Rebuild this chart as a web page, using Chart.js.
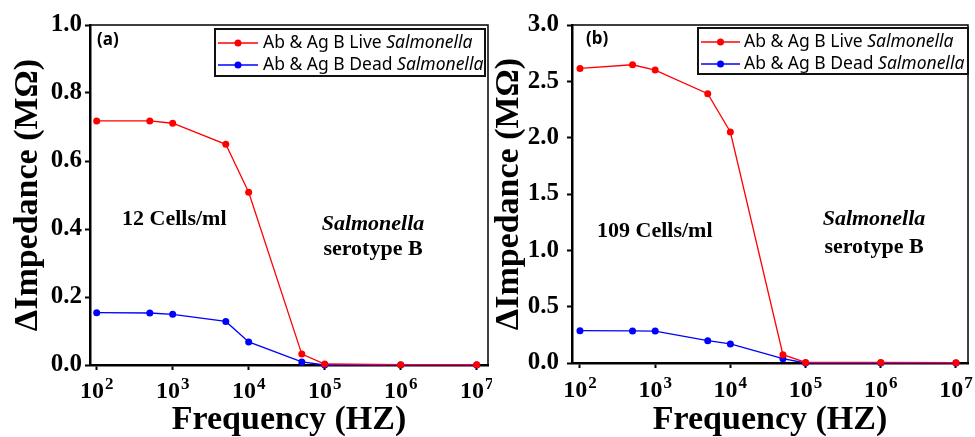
<!DOCTYPE html>
<html>
<head>
<meta charset="utf-8">
<script src="https://cdn.jsdelivr.net/npm/chart.js@4.4.1/dist/chart.umd.min.js"></script>
<style>
html, body { margin: 0; padding: 0; background: #fff; }
#wrap { position: relative; width: 975px; height: 437px; }
.panel { position: absolute; top: 0; height: 437px; }
canvas { display: block; }
</style>
</head>
<body>
<div id="wrap">
  <div class="panel" style="left:0;width:492px"><canvas id="chartA" width="492" height="437"></canvas></div>
  <div class="panel" style="left:492px;width:483px"><canvas id="chartB" width="483" height="437"></canvas></div>
</div>
<script>
// Frecuencias medidas (Hz)
const frequencies = [1e2, 5e2, 1e3, 5e3, 1e4, 5e4, 1e5, 1e6, 1e7];
const decadeTicks = [1e2, 1e3, 1e4, 1e5, 1e6, 1e7];

// ΔImpedancia (MΩ) - 12 Cells/ml
const liveA = [0.718, 0.718, 0.711, 0.649, 0.508, 0.032, 0.003, 0.001, 0.001];
const deadA = [0.154, 0.153, 0.149, 0.128, 0.068, 0.009, 0.000, 0.000, 0.000];
const yTicksA = [0, 0.2, 0.4, 0.6, 0.8, 1.0];

// ΔImpedancia (MΩ) - 109 Cells/ml
const liveB = [2.615, 2.647, 2.600, 2.390, 2.050, 0.074, 0.005, 0.005, 0.003];
const deadB = [0.287, 0.285, 0.283, 0.198, 0.169, 0.038, 0.000, 0.000, 0.000];
const yTicksB = [0, 0.5, 1.0, 1.5, 2.0, 2.5, 3.0];

const seriesLabels = ['Ab & Ag B Live Salmonella', 'Ab & Ag B Dead Salmonella'];
const italicWord = 'Salmonella';

const SERIF = '"Liberation Serif", "Times New Roman", serif';
const SANS = '"Noto Sans", "Liberation Sans", Arial, sans-serif';

// Marco superior y derecho
const frame = {
    id: 'frame',
    afterDatasetsDraw(chart) {
        const { ctx, chartArea: a } = chart;
        ctx.save();
        ctx.strokeStyle = '#000';
        ctx.lineWidth = 1.5;
        ctx.beginPath();
        ctx.moveTo(a.left, a.top);
        ctx.lineTo(a.right, a.top);
        ctx.lineTo(a.right, a.bottom);
        ctx.stroke();
        ctx.restore();
    }
};

// Etiquetas 10^n con exponente elevado
const powerLabels = {
    id: 'powerLabels',
    afterDraw(chart, args, opts) {
        const { ctx, scales: { x } } = chart;
        ctx.save();
        ctx.fillStyle = '#000';
        ctx.textBaseline = 'alphabetic';
        ctx.textAlign = 'left';
        x.ticks.forEach(t => {
            const px = x.getPixelForValue(t.value);
            const exp = String(Math.round(Math.log10(t.value)));
            ctx.font = 'bold 24px ' + SERIF;
            const wBase = ctx.measureText('10').width;
            ctx.font = 'bold 17px ' + SERIF;
            const wExp = ctx.measureText(exp).width;
            const x0 = px - (wBase + wExp + 1) / 2;
            ctx.font = 'bold 24px ' + SERIF;
            ctx.fillText('10', x0, opts.baseline);
            ctx.font = 'bold 17px ' + SERIF;
            ctx.fillText(exp, x0 + wBase + 1, opts.baseline - 9);
        });
        ctx.restore();
    }
};

// Leyenda con recuadro y texto en cursiva
const boxLegend = {
    id: 'boxLegend',
    afterDraw(chart, args, opts) {
        const ctx = chart.ctx;
        ctx.save();
        ctx.fillStyle = '#fff';
        ctx.fillRect(opts.x, opts.y, opts.w, opts.h);
        ctx.strokeStyle = '#111';
        ctx.lineWidth = 2;
        ctx.strokeRect(opts.x, opts.y, opts.w, opts.h);
        chart.data.datasets.forEach((ds, i) => {
            const y = opts.rowY[i];
            ctx.strokeStyle = ds.borderColor;
            ctx.lineWidth = 1.5;
            ctx.beginPath();
            ctx.moveTo(opts.lineX0, y);
            ctx.lineTo(opts.lineX1, y);
            ctx.stroke();
            ctx.fillStyle = ds.borderColor;
            ctx.beginPath();
            ctx.arc((opts.lineX0 + opts.lineX1) / 2, y, 3.5, 0, Math.PI * 2);
            ctx.fill();
            const head = ds.label.replace(italicWord, '');
            ctx.fillStyle = '#000';
            ctx.textBaseline = 'middle';
            ctx.font = '17.5px ' + SANS;
            ctx.fillText(head, opts.textX, y);
            const w = ctx.measureText(head).width;
            ctx.font = 'italic 17.5px ' + SANS;
            ctx.fillText(italicWord, opts.textX + w, y);
        });
        ctx.restore();
    }
};

// Textos dentro del area
const notes = {
    id: 'notes',
    afterDraw(chart, args, opts) {
        const ctx = chart.ctx;
        ctx.save();
        ctx.fillStyle = '#000';
        ctx.textBaseline = 'alphabetic';
        opts.items.forEach(n => {
            ctx.font = n.font;
            ctx.textAlign = n.align || 'left';
            ctx.fillText(n.text, n.x, n.y);
        });
        ctx.restore();
    }
};

function serie(label, values, color) {
    return {
        label: label,
        data: frequencies.map((f, i) => ({ x: f, y: values[i] })),
        borderColor: color,
        backgroundColor: color,
        borderWidth: 1.3,
        pointRadius: 3.5,
        pointBorderWidth: 0,
        tension: 0,
        clip: false
    };
}

function grafica(canvas, p) {
    return new Chart(canvas, {
        type: 'line',
        data: {
            datasets: [
                serie(seriesLabels[0], p.live, '#ff0000'),
                serie(seriesLabels[1], p.dead, '#0000ff')
            ]
        },
        options: {
            responsive: false,
            animation: false,
            devicePixelRatio: 1,
            layout: { padding: { top: 25, right: p.padRight, left: 0, bottom: 0 } },
            scales: {
                x: {
                    type: 'logarithmic',
                    min: Math.pow(10, p.logMin),
                    max: Math.pow(10, p.logMax),
                    afterBuildTicks: s => { s.ticks = decadeTicks.map(v => ({ value: v })); },
                    afterFit: s => { s.height = p.xHeight; },
                    border: { display: true, color: '#000', width: 2.5 },
                    grid: { drawOnChartArea: false, tickColor: '#000', tickLength: 5, tickWidth: 2 },
                    ticks: { display: false, autoSkip: false },
                    title: {
                        display: true,
                        text: 'Frequency (HZ)',
                        color: '#000',
                        padding: 0,
                        font: { family: SERIF, size: 34, weight: 'bold', lineHeight: 1 }
                    }
                },
                y: {
                    type: 'linear',
                    min: 0,
                    max: p.yMax,
                    afterBuildTicks: s => { s.ticks = p.yTicks.map(v => ({ value: v })); },
                    afterFit: s => { s.width = p.yWidth; },
                    border: { display: true, color: '#000', width: 2.5 },
                    grid: { drawOnChartArea: false, tickColor: '#000', tickLength: 5, tickWidth: 2 },
                    ticks: {
                        color: '#000',
                        padding: p.yPad,
                        font: { family: SERIF, size: 25, weight: 'bold' },
                        callback: v => v.toFixed(1)
                    },
                    title: {
                        display: true,
                        text: 'ΔImpedance (MΩ)',
                        color: '#000',
                        padding: { top: p.titlePad, bottom: 0 },
                        font: { family: SERIF, size: 34, weight: 'bold', lineHeight: 1 }
                    }
                }
            },
            plugins: {
                legend: { display: false },
                tooltip: { enabled: false },
                powerLabels: { baseline: p.tickBaseline },
                boxLegend: p.legend,
                notes: { items: p.notes }
            }
        },
        plugins: [frame, powerLabels, boxLegend, notes]
    });
}

grafica(document.getElementById('chartA'), {
    live: liveA, dead: deadA, yMax: 1.0, yTicks: yTicksA, tickBaseline: 398,
    logMin: 1.912, logMax: 7.149, padRight: 4, xHeight: 72, yWidth: 90, yPad: 3, titlePad: 11,
    legend: { x: 215, y: 29, w: 270, h: 47, rowY: [43, 65], lineX0: 218, lineX1: 258, textX: 263 },
    notes: [
        { text: '(a)', x: 97, y: 45, font: 'bold 17px ' + SANS },
        { text: '12 Cells/ml', x: 122, y: 225, font: 'bold 22px ' + SERIF },
        { text: 'Salmonella', x: 373, y: 230, font: 'italic bold 22px ' + SERIF, align: 'center' },
        { text: 'serotype B', x: 373, y: 255, font: 'bold 22px ' + SERIF, align: 'center' }
    ]
});

grafica(document.getElementById('chartB'), {
    live: liveB, dead: deadB, yMax: 3.0, yTicks: yTicksB, tickBaseline: 397,
    logMin: 1.894, logMax: 7.160, padRight: 7, xHeight: 74, yWidth: 80, yPad: 8, titlePad: 0,
    legend: { x: 206, y: 28, w: 270, h: 46, rowY: [42, 64], lineX0: 209, lineX1: 248, textX: 252 },
    notes: [
        { text: '(b)', x: 94, y: 44, font: 'bold 17px ' + SANS },
        { text: '109 Cells/ml', x: 105, y: 237, font: 'bold 22px ' + SERIF },
        { text: 'Salmonella', x: 382, y: 225, font: 'italic bold 22px ' + SERIF, align: 'center' },
        { text: 'serotype B', x: 382, y: 253, font: 'bold 22px ' + SERIF, align: 'center' }
    ]
});
</script>
</body>
</html>
